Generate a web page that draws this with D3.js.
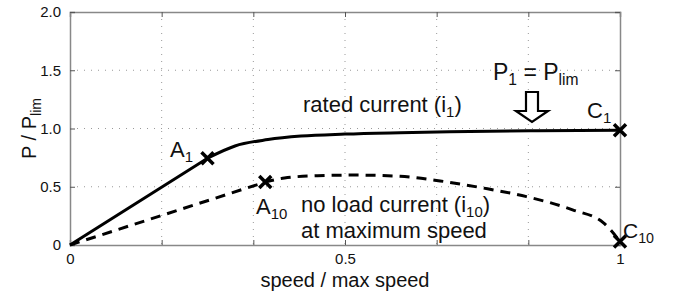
<!DOCTYPE html>
<html><head><meta charset="utf-8">
<script src="https://cdn.jsdelivr.net/npm/d3@7"></script>
<style>body{margin:0;background:#fff}svg{display:block}text{font-family:"Liberation Sans",Arial,sans-serif;fill:#111}</style>
</head><body><svg id="c" width="682" height="291"></svg>
<script>
const solidX = [0, 0.25, 0.30, 0.36, 0.42, 0.50, 0.60, 0.69, 0.84, 1.0];
const solidY = [0, 0.745, 0.85, 0.905, 0.935, 0.952, 0.964, 0.972, 0.98, 0.985];
const dashX = [0, 0.355, 0.39, 0.45, 0.52, 0.60, 0.673, 0.75, 0.83, 0.915, 0.97, 1.0];
const dashY = [0, 0.54, 0.575, 0.595, 0.60, 0.59, 0.55, 0.49, 0.415, 0.30, 0.19, 0.03];
const markerNames = ["A1", "A10", "C1", "C10"];
const markerX = [0.25, 0.355, 1.0, 1.0];
const markerY = [0.745, 0.54, 0.985, 0.03];
const xTicks = [0, 1/6, 2/6, 0.5, 4/6, 5/6, 1];
const xTickLabels = ["0", "", "", "0.5", "", "", "1"];
const yTicks = [0, 0.5, 1.0, 1.5, 2.0];
const yTickLabels = ["0", "0.5", "1.0", "1.5", "2.0"];

const svg = d3.select("#c");
const L = 70, R = 620, T = 12, B = 245;
const x = d3.scaleLinear().domain([0, 1]).range([L, R]);
const y = d3.scaleLinear().domain([0, 2]).range([B, T]);

// grid
const g = svg.append("g");
g.selectAll(".gx").data(xTicks.slice(1, -1)).enter().append("line")
  .attr("x1", d => x(d)).attr("x2", d => x(d)).attr("y1", T).attr("y2", B)
  .attr("stroke", "#999").attr("stroke-width", 1).attr("stroke-dasharray", "1,6");
g.selectAll(".gy").data(yTicks.slice(1, -1)).enter().append("line")
  .attr("y1", d => y(d)).attr("y2", d => y(d)).attr("x1", L).attr("x2", R)
  .attr("stroke", "#999").attr("stroke-width", 1).attr("stroke-dasharray", "1,6");

// axes
const axB = d3.axisBottom(x).tickValues(xTicks).tickSize(-5).tickPadding(8).tickFormat((d, i) => xTickLabels[i]);
const axT = d3.axisTop(x).tickValues(xTicks).tickSize(-5).tickFormat("");
const axL = d3.axisLeft(y).tickValues(yTicks).tickSize(-5).tickPadding(9).tickFormat((d, i) => yTickLabels[i]);
const axR = d3.axisRight(y).tickValues(yTicks).tickSize(-5).tickFormat("");
function style(sel) {
  sel.selectAll("path").attr("stroke", "#888").attr("stroke-width", 1.5);
  sel.selectAll("line").attr("stroke", "#555").attr("stroke-width", 1);
  sel.selectAll("text").attr("font-size", 15).attr("fill", "#111").attr("font-family", '"Liberation Sans",Arial,sans-serif');
}
svg.append("g").attr("transform", `translate(0,${B})`).call(axB).call(style);
svg.append("g").attr("transform", `translate(0,${T})`).call(axT).call(style);
svg.append("g").attr("transform", `translate(${L},0)`).call(axL).call(style);
svg.append("g").attr("transform", `translate(${R},0)`).call(axR).call(style);

// curves: straight segment from origin to first knee, smooth curve after
const lin = d3.line().x(d => x(d[0])).y(d => y(d[1]));
const smooth = d3.line().x(d => x(d[0])).y(d => y(d[1])).curve(d3.curveMonotoneX);
function pathFor(xs, ys) {
  const pts = xs.map((v, i) => [v, ys[i]]);
  return lin(pts.slice(0, 2)) + smooth(pts.slice(1)).replace(/^M/, "L");
}
svg.append("path").attr("d", pathFor(solidX, solidY))
  .attr("fill", "none").attr("stroke", "#000").attr("stroke-width", 3);
svg.append("path").attr("d", pathFor(dashX, dashY))
  .attr("fill", "none").attr("stroke", "#000").attr("stroke-width", 3)
  .attr("stroke-dasharray", "10,7");

// markers
const s = 6;
markerX.forEach((mx, i) => {
  const cx = x(mx), cy = y(markerY[i]);
  svg.append("path").attr("d", `M${cx - s},${cy - s}L${cx + s},${cy + s}M${cx - s},${cy + s}L${cx + s},${cy - s}`)
    .attr("stroke", "#000").attr("stroke-width", 3.5).attr("fill", "none");
});

// text helper with subscripts
function label(xp, yp, parts, size, anchor) {
  const t = svg.append("text").attr("x", xp).attr("y", yp).attr("font-size", size).attr("text-anchor", anchor || "start");
  let shifted = false;
  parts.forEach(p => {
    if (p.sub) {
      t.append("tspan").attr("font-size", size * 0.68).attr("dy", size * 0.22).text(p.sub);
      shifted = true;
    } else {
      const ts = t.append("tspan").text(p.t);
      if (shifted) { ts.attr("dy", -size * 0.22); shifted = false; }
    }
  });
  return t;
}
label(170, 157, [{t: "A"}, {sub: "1"}], 22);
label(256, 214, [{t: "A"}, {sub: "10"}], 22);
label(587, 118, [{t: "C"}, {sub: "1"}], 22);
label(623, 238, [{t: "C"}, {sub: "10"}], 21);
label(303, 112, [{t: "rated current (i"}, {sub: "1"}, {t: ")"}], 22);
label(301, 212, [{t: "no load current (i"}, {sub: "10"}, {t: ")"}], 22);
label(301, 238, [{t: "at maximum speed"}], 22);
label(493, 80, [{t: "P"}, {sub: "1"}, {t: " = P"}, {sub: "lim"}], 23);

// hollow arrow
const ax = x(0.84);
svg.append("path")
  .attr("d", `M${ax - 6},92 L${ax + 6},92 L${ax + 6},111 L${ax + 16},111 L${ax},122 L${ax - 16},111 L${ax - 6},111 Z`)
  .attr("fill", "#fff").attr("stroke", "#000").attr("stroke-width", 2.2).attr("stroke-linejoin", "miter");

// axis titles
label((L + R) / 2, 287, [{t: "speed / max speed"}], 20, "middle");
const yl = svg.append("text").attr("transform", `translate(36,${(T + B) / 2}) rotate(-90)`).attr("text-anchor", "middle").attr("font-size", 20);
yl.append("tspan").text("P / P");
yl.append("tspan").attr("font-size", 14).attr("dy", 5).text("lim");
</script></body></html>
